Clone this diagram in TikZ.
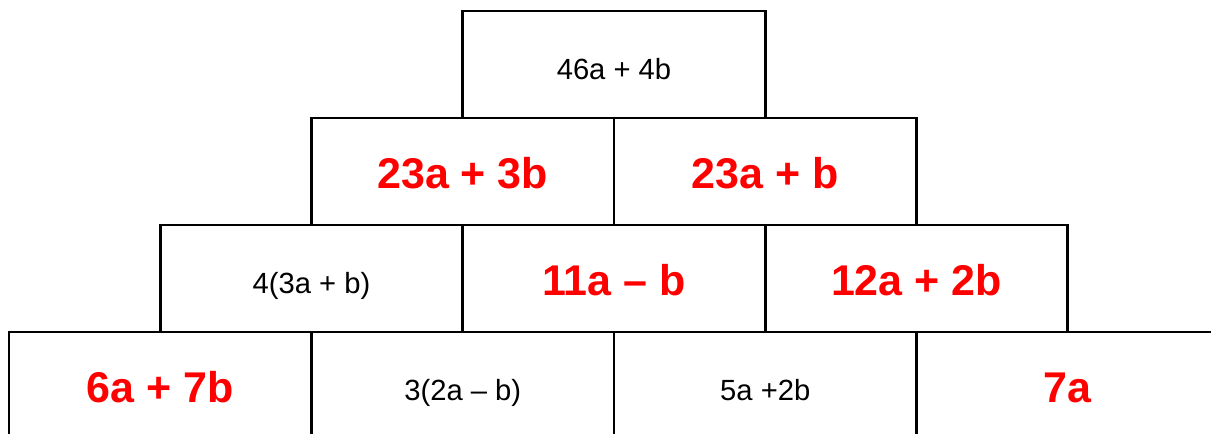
\documentclass[tikz,border=0pt]{standalone}
\usepackage{fontspec}
\setmainfont{Liberation Sans}
\begin{document}
\begin{tikzpicture}[x=0.5pt,y=-0.5pt,
  cell/.style={draw=black,line width=1.3pt,minimum width=151.25pt,minimum height=53.5pt,inner sep=0pt,outer sep=0pt},
  given/.style={font=\fontsize{14.6}{17}\selectfont,text=black,text height=14.5pt,text depth=0pt},
  answer/.style={font=\fontsize{21.5}{25}\selectfont\bfseries,text=red,text height=17.4pt,text depth=0pt}]
\useasboundingbox (0,0) rectangle (1211,434);
\clip (0,0) rectangle (1211,434);
% row 1
\node[cell,given]  (r1c1) at (614,64.5) {46a + 4b};
% row 2
\node[cell,answer] (r2c1) at (462.75,171.5) {23a + 3b};
\node[cell,answer] (r2c2) at (765.25,171.5) {23a + b};
% row 3
\node[cell,given]  (r3c1) at (311.5,278.5) {4(3a + b)};
\node[cell,answer] (r3c2) at (614,278.5) {11a – b};
\node[cell,answer] (r3c3) at (916.5,278.5) {12a + 2b};
% row 4
\node[cell,answer] (r4c1) at (160.25,385.5) {6a + 7b};
\node[cell,given]  (r4c2) at (462.75,385.5) {3(2a – b)};
\node[cell,given]  (r4c3) at (765.25,385.5) {5a +2b};
\node[cell,answer] (r4c4) at (1067.75,385.5) {7a};
\end{tikzpicture}
\end{document}
